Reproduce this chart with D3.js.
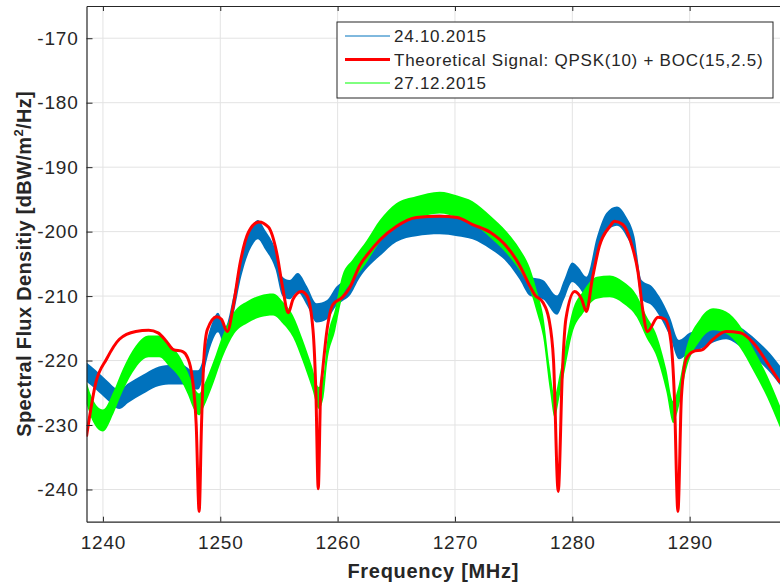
<!DOCTYPE html>
<html>
<head>
<meta charset="utf-8">
<script src="https://cdn.jsdelivr.net/npm/d3@7"></script>
<style>
  body { margin: 0; background: #fff; }
  svg { font-family: "Liberation Sans", Arial, sans-serif; }
</style>
</head>
<body>
<svg id="chart" width="780" height="584"></svg>
<script>
const xTicks = [1240, 1250, 1260, 1270, 1280, 1290];
const yTicks = [-240, -230, -220, -210, -200, -190, -180, -170];

// theoretical signal, smooth line [MHz, dBW/m2/Hz]
const theory = [
  [1238.6,-231.8],[1239.4,-223.4],[1240.3,-219.8],[1241.4,-216.7],[1242.8,-215.5],
  [1243.9,-215.3],[1244.7,-215.7],[1245.4,-217],[1246.0,-218.3],[1246.8,-218.6],
  [1247.2,-219.5],[1247.6,-222.5],[1247.95,-230],[1248.2,-243.4],[1248.4,-230],
  [1248.6,-219.8],[1248.9,-215.2],[1249.7,-213.2],[1250.1,-213.6],[1250.6,-215.5],
  [1251.1,-211.6],[1251.7,-204.8],[1252.4,-200.1],[1253.3,-198.5],[1254.1,-199.3],
  [1254.8,-203.2],[1255.3,-208.5],[1255.8,-212.6],[1256.2,-210.5],[1256.9,-209.3],
  [1257.4,-210],[1257.9,-215.2],[1258.15,-225],[1258.35,-239.9],[1258.55,-225],
  [1258.7,-222],[1259.1,-215.2],[1259.6,-211.3],[1260.4,-210.2],[1261.0,-208.8],
  [1261.9,-205.2],[1262.7,-203.2],[1263.6,-201.3],[1265,-199.2],[1266.7,-197.8],
  [1268.7,-197.6],[1270.2,-197.8],[1271.5,-198.9],[1273,-200.1],[1274.4,-202.3],
  [1275.5,-205.2],[1276.4,-208.5],[1276.8,-209.8],[1277.5,-211],[1278.0,-213.5],
  [1278.4,-220],[1278.8,-240.3],[1279.15,-222],[1279.45,-213.6],[1280.2,-209.3],
  [1280.8,-210.5],[1281.2,-212.4],[1281.7,-207.4],[1282.3,-202.3],[1283.2,-199.2],
  [1283.6,-198.4],[1284.3,-198.9],[1285,-201.7],[1285.6,-206.3],[1286,-212.1],
  [1286.4,-215.5],[1287.3,-213.3],[1287.9,-213.6],[1288.4,-217],[1288.7,-225.6],
  [1289.0,-243.4],[1289.3,-225.6],[1289.7,-219.8],[1290.3,-218.6],[1291.1,-218.3],
  [1292,-216.7],[1293.1,-215.5],[1294.3,-215.7],[1295.4,-217.2],[1296.6,-220.3],
  [1297.7,-223.4]
];

// measured 24.10.2015, centre of the noisy trace
const oct24 = [
  [1238.6,-221.8],[1239.4,-223],[1240.3,-224.5],[1241.4,-226],[1242.2,-225],
  [1243.4,-223.7],[1244.5,-222.6],[1245.6,-222.2],[1246.8,-222.2],[1247.6,-223],
  [1248.1,-223],[1248.5,-221.4],[1248.8,-218.8],[1249.4,-215.2],[1249.8,-214.1],
  [1250.4,-216.3],[1251.1,-211.6],[1251.8,-205.4],[1252.7,-200.7],[1253.2,-199.7],
  [1253.8,-201.2],[1254.7,-204.3],[1255.3,-208.5],[1255.9,-209],[1256.6,-207.9],
  [1257.4,-210],[1258.2,-212.6],[1259.1,-212.1],[1259.9,-210],[1260.4,-209.3],
  [1261.0,-208.5],[1261.9,-205.6],[1262.6,-204],[1263.6,-202.3],[1265,-200.1],
  [1266.7,-199.2],[1268.7,-198.9],[1270.2,-199.2],[1271.5,-199.7],[1273,-201.2],
  [1274.4,-203.2],[1275.5,-205.9],[1276.4,-208.5],[1277.5,-209],[1278.7,-211.4],
  [1279.3,-209],[1280.0,-206.3],[1280.5,-207],[1281.2,-208.5],[1282.1,-202.3],
  [1282.9,-198.6],[1283.8,-197.6],[1284.6,-199.2],[1285.3,-202.3],[1285.9,-209],
  [1286.8,-210],[1287.4,-211.5],[1288.3,-214.7],[1289.1,-218.3],[1290,-217.2],
  [1290.9,-216.7],[1292,-215.7],[1293.1,-215.2],[1294.3,-216.3],[1295.7,-218.3],
  [1297.1,-220.9],[1297.7,-222.3]
];
const oct24Noise = 1.5; // half width of the noise band, dB

// measured 27.12.2015, centre of the noisy trace
const dec27 = [
  [1238.6,-225],[1239.1,-227.6],[1240.0,-229.3],[1240.9,-226.5],[1241.7,-223],
  [1242.8,-219.4],[1243.9,-217.8],[1244.8,-217.8],[1245.6,-219.1],[1246.5,-220.9],
  [1247.2,-223.4],[1247.8,-226],[1248.2,-226.8],[1248.6,-225.5],[1249.4,-221.9],
  [1250.2,-217.8],[1251.2,-214.1],[1252.3,-212.5],[1253.4,-211.6],[1254.5,-211.3],
  [1255.3,-212.5],[1256.2,-214.7],[1257,-218.3],[1257.8,-222.5],[1258.4,-225.8],
  [1258.8,-224],[1259.1,-218.8],[1259.8,-213.6],[1260.4,-208.5],[1261.3,-206],
  [1262.5,-203],[1263.6,-199.9],[1265,-197.3],[1266.7,-196.2],[1268.7,-195.5],
  [1270.2,-196.1],[1271.5,-197],[1273,-199.2],[1274.4,-201.7],[1275.5,-204.3],
  [1276.4,-207.4],[1277,-211],[1277.5,-214.5],[1278.1,-223],[1278.5,-227.1],
  [1278.9,-224],[1279.4,-219.4],[1280,-214.1],[1280.9,-211],[1282.1,-208.7],
  [1283.2,-208.5],[1284.3,-209.4],[1285.5,-211.6],[1286.3,-214.7],[1287.2,-217.8],
  [1288,-223],[1288.6,-228],[1289,-226],[1289.7,-219.8],[1290.9,-215.2],
  [1292,-213.6],[1293.1,-214.1],[1294.3,-216.3],[1295.4,-219.8],[1296.6,-224],
  [1297.7,-228.7]
];
const dec27Noise = 1.7;

const legendLabels = ["24.10.2015", "Theoretical Signal: QPSK(10) + BOC(15,2.5)", "27.12.2015"];
const colors = { blue: "#0072bd", red: "#ff0000", green: "#00ff00" };

const margin = { top: 6, left: 86.5, bottom: 62.3, right: 0 };
const W = 780, H = 584;
const w = W - margin.left - margin.right;
const h = H - margin.top - margin.bottom;

const svg = d3.select("#chart");
const g = svg.append("g").attr("transform", `translate(${margin.left},${margin.top})`);

const x = d3.scaleLinear().domain([1238.6, 1297.7]).range([0, w]);
const y = d3.scaleLinear().domain([-245, -165]).range([h, 0]);

svg.append("defs").append("clipPath").attr("id", "clip")
  .append("rect").attr("width", w).attr("height", h);

//grid
g.append("g").selectAll("line.gx").data(xTicks).enter().append("line")
  .attr("x1", d => x(d)).attr("x2", d => x(d)).attr("y1", 0).attr("y2", h)
  .attr("stroke", "#e3e3e3").attr("stroke-width", 1);
g.append("g").selectAll("line.gy").data(yTicks).enter().append("line")
  .attr("x1", 0).attr("x2", w).attr("y1", d => y(d)).attr("y2", d => y(d))
  .attr("stroke", "#e3e3e3").attr("stroke-width", 1);

const plot = g.append("g").attr("clip-path", "url(#clip)");

function band(data, noise, color) {
  const area = d3.area()
    .x(d => x(d[0])).y0(d => y(d[1] - noise)).y1(d => y(d[1] + noise))
    .curve(d3.curveMonotoneX);
  plot.append("path").datum(data).attr("d", area).attr("fill", color);
}

band(oct24, oct24Noise, colors.blue);
band(dec27, dec27Noise, colors.green);

const line = d3.line().x(d => x(d[0])).y(d => y(d[1])).curve(d3.curveMonotoneX);
plot.append("path").datum(theory).attr("d", line)
  .attr("fill", "none").attr("stroke", colors.red).attr("stroke-width", 3)
  .attr("stroke-linejoin", "round");

//axes
const tickCol = "#262626";
const fmt = d => String(d); // plain hyphen minus like the original
const xAxis = g.append("g").attr("transform", `translate(0,${h})`)
  .call(d3.axisBottom(x).tickValues(xTicks).tickFormat(fmt).tickSizeInner(-5).tickSizeOuter(0).tickPadding(14));
const xTop = g.append("g")
  .call(d3.axisTop(x).tickValues(xTicks).tickFormat("").tickSizeInner(-5).tickSizeOuter(0));
const yAxis = g.append("g")
  .call(d3.axisLeft(y).tickValues(yTicks).tickFormat(fmt).tickSizeInner(-6).tickSizeOuter(0).tickPadding(8));

[xAxis, xTop, yAxis].forEach(a => {
  a.select(".domain").attr("stroke", tickCol).attr("stroke-width", 1.2);
  a.selectAll(".tick line").attr("stroke", tickCol);
  a.selectAll(".tick text").attr("fill", tickCol).style("font-size", "19px")
    .style("letter-spacing", "0.8px")
    .style("font-family", "'Liberation Sans', Arial, sans-serif");
});

//axis labels
svg.append("text")
  .attr("x", margin.left + w / 2).attr("y", 578)
  .attr("text-anchor", "middle").attr("fill", tickCol)
  .style("font-size", "20px").style("font-weight", "bold").style("letter-spacing", "0.7px")
  .text("Frequency [MHz]");

const yl = svg.append("text")
  .attr("transform", `translate(31,${margin.top + h / 2}) rotate(-90)`)
  .attr("text-anchor", "middle").attr("fill", tickCol)
  .style("font-size", "20px").style("font-weight", "bold").style("letter-spacing", "0.35px");
yl.append("tspan").text("Spectral Flux Densitiy [dBW/m");
yl.append("tspan").attr("dy", "-8").style("font-size", "13px").text("2");
yl.append("tspan").attr("dy", "8").text("/Hz]");

//legend
const lg = svg.append("g").attr("transform", "translate(337,22)");
lg.append("rect").attr("width", 436).attr("height", 76)
  .attr("fill", "#fff").attr("stroke", tickCol).attr("stroke-width", 1);
const items = [
  { label: legendLabels[0], color: colors.blue, width: 1 },
  { label: legendLabels[1], color: colors.red, width: 3 },
  { label: legendLabels[2], color: colors.green, width: 1 }
];
items.forEach((it, i) => {
  const yy = 14 + i * 23.5;
  lg.append("line").attr("x1", 8).attr("x2", 53).attr("y1", yy).attr("y2", yy)
    .attr("stroke", it.color).attr("stroke-width", it.width);
  lg.append("text").attr("x", 57).attr("y", yy + 6).attr("fill", tickCol)
    .style("font-size", "17px").style("letter-spacing", "0.75px").text(it.label);
});
</script>
</body>
</html>
